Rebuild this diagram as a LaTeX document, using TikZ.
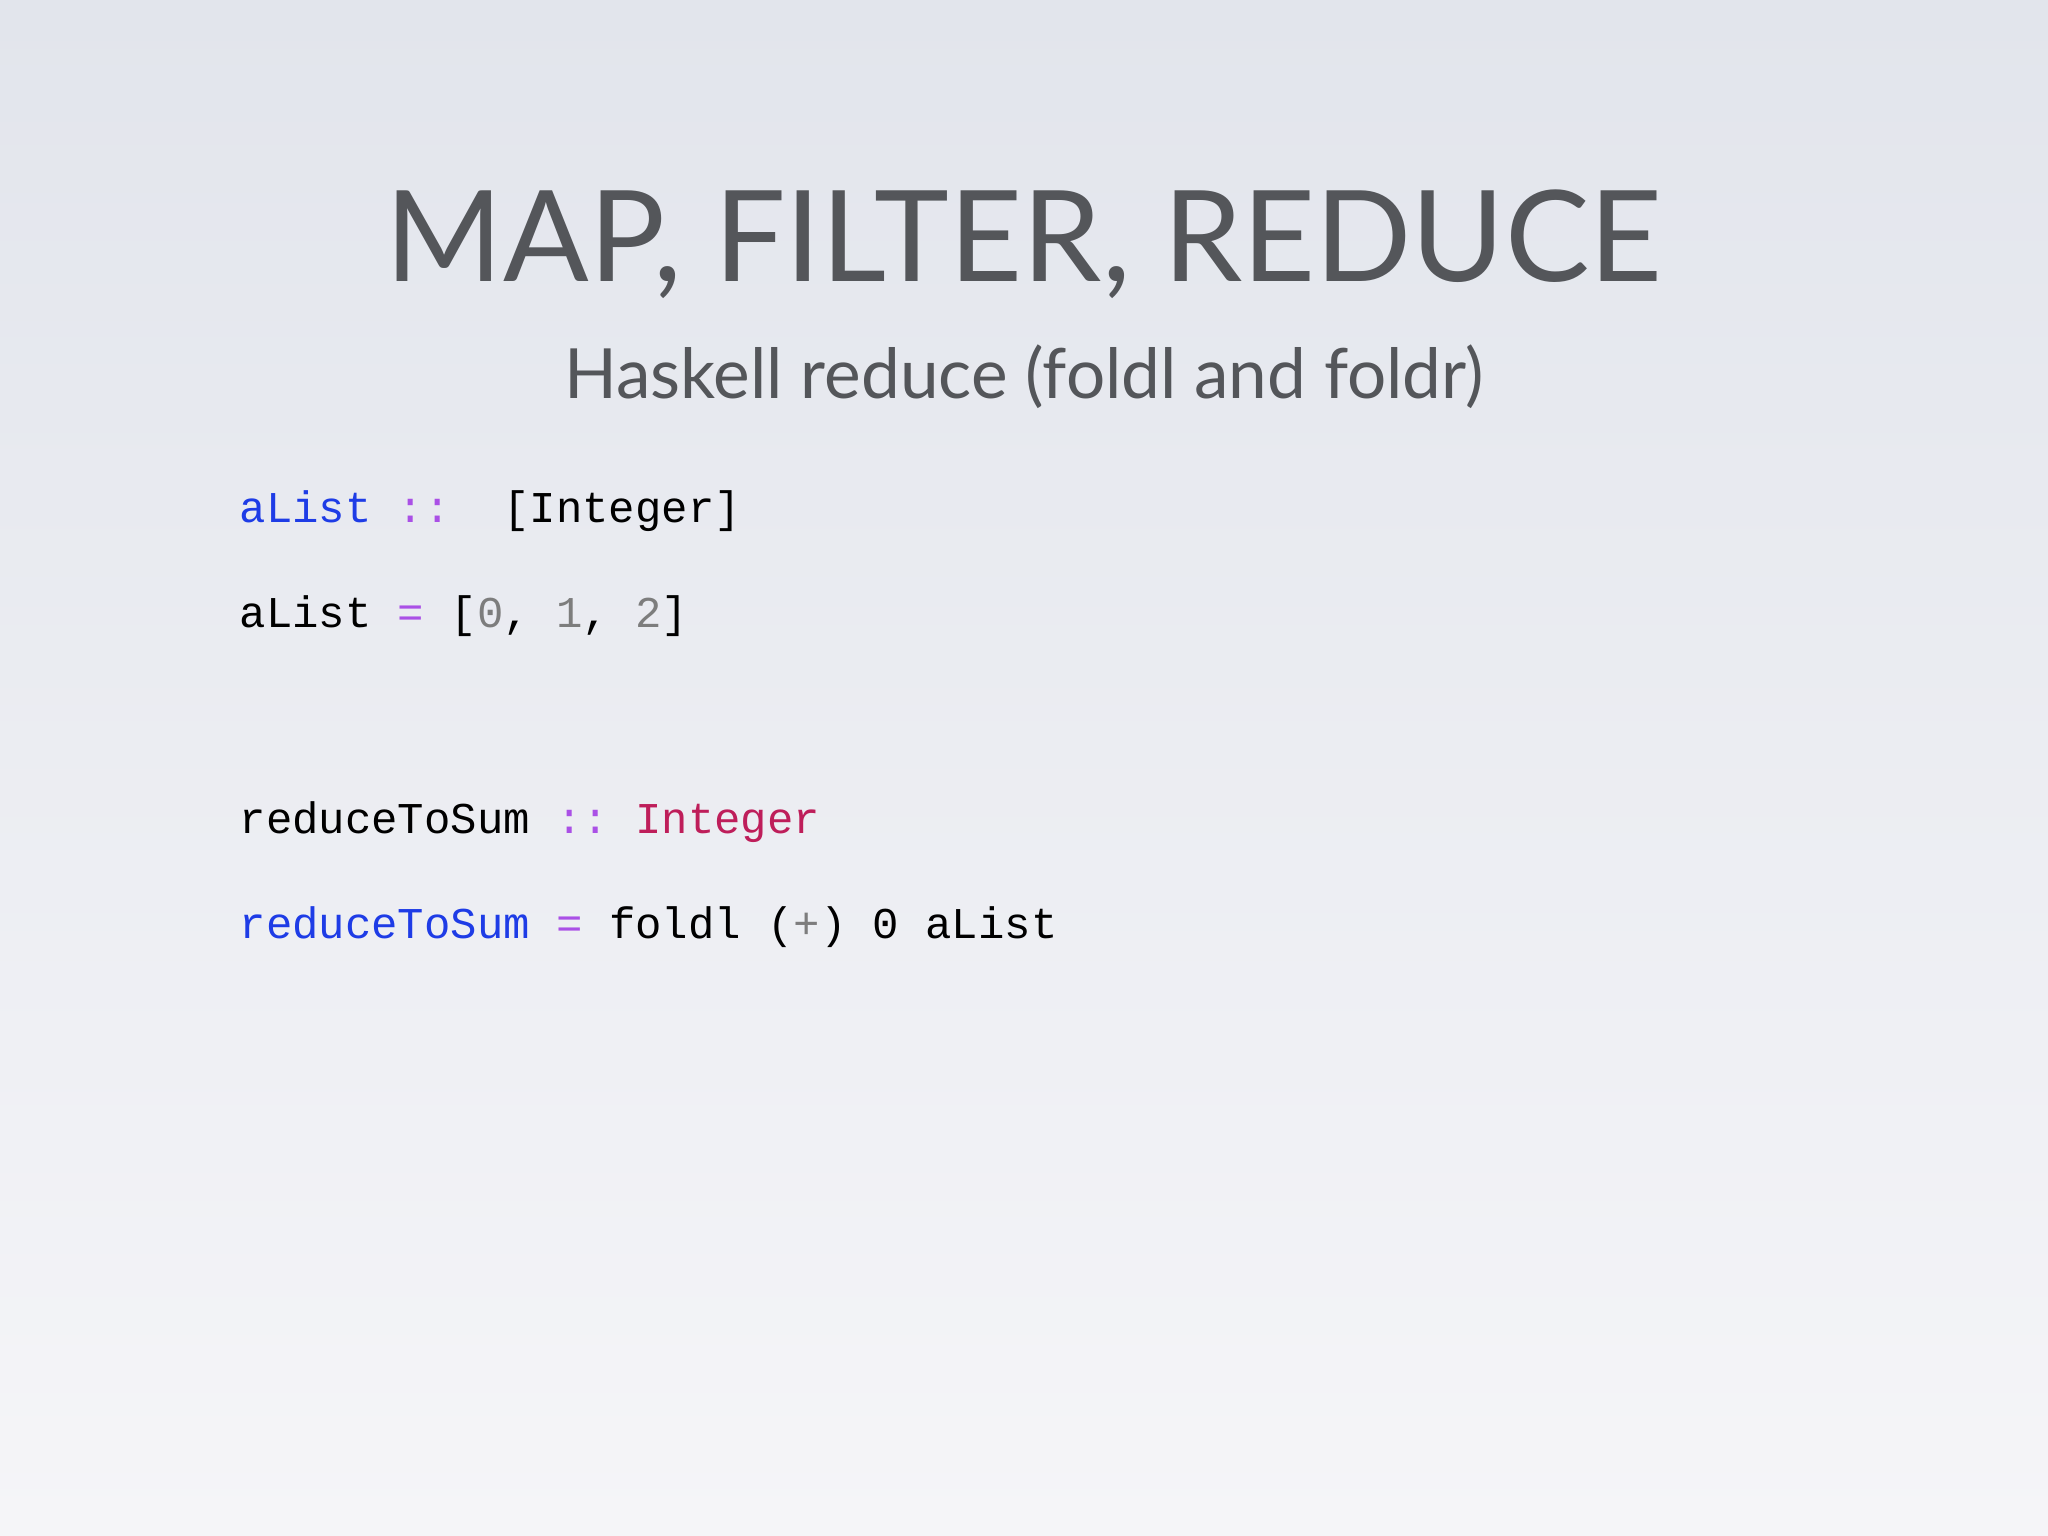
\documentclass[tikz,border=0pt]{standalone}
\usepackage{fontspec}
\setmainfont{Lato}
\setmonofont{Liberation Mono}
\definecolor{kblue}{RGB}{30,60,230}
\definecolor{kpurp}{RGB}{170,80,230}
\definecolor{kred}{RGB}{190,30,90}
\definecolor{kgray}{RGB}{125,125,125}
\definecolor{ttl}{RGB}{84,86,90}
\newcommand\Sp{\hphantom{a}}
\begin{document}
\begin{tikzpicture}[x=0.01cm,y=-0.01cm,
  code/.style={anchor=base west,inner sep=0,font=\ttfamily\fontsize{12.5pt}{14pt}\selectfont}]
\shade[top color={rgb,255:red,226;green,229;blue,236},bottom color={rgb,255:red,245;green,245;blue,248}] (0,0) rectangle (2048,1536);
\useasboundingbox (0,0) rectangle (2048,1536);
\node[anchor=base,inner sep=0,text=ttl,font=\fontsize{36pt}{40pt}\selectfont] (title) at (1024,281) {MAP, FILTER, REDUCE};
\node[anchor=base,inner sep=0,text=ttl,font=\fontsize{19.7pt}{24pt}\selectfont] (sub) at (1024,398) {Haskell reduce (foldl and foldr)};
\node[code] (l1) at (239,522) {\textcolor{kblue}{aList}\Sp\textcolor{kpurp}{::}\Sp\Sp[Integer]};
\node[code] (l2) at (239,627) {aList\Sp\textcolor{kpurp}{=}\Sp[\textcolor{kgray}{0},\Sp\textcolor{kgray}{1},\Sp\textcolor{kgray}{2}]};
\node[code] (l3) at (239,833) {reduceToSum\Sp\textcolor{kpurp}{::}\Sp\textcolor{kred}{Integer}};
\node[code] (l4) at (239,938) {\textcolor{kblue}{reduceToSum}\Sp\textcolor{kpurp}{=}\Sp foldl\Sp(\textcolor{kgray}{+})\Sp0\Sp aList};
\end{tikzpicture}
\end{document}
